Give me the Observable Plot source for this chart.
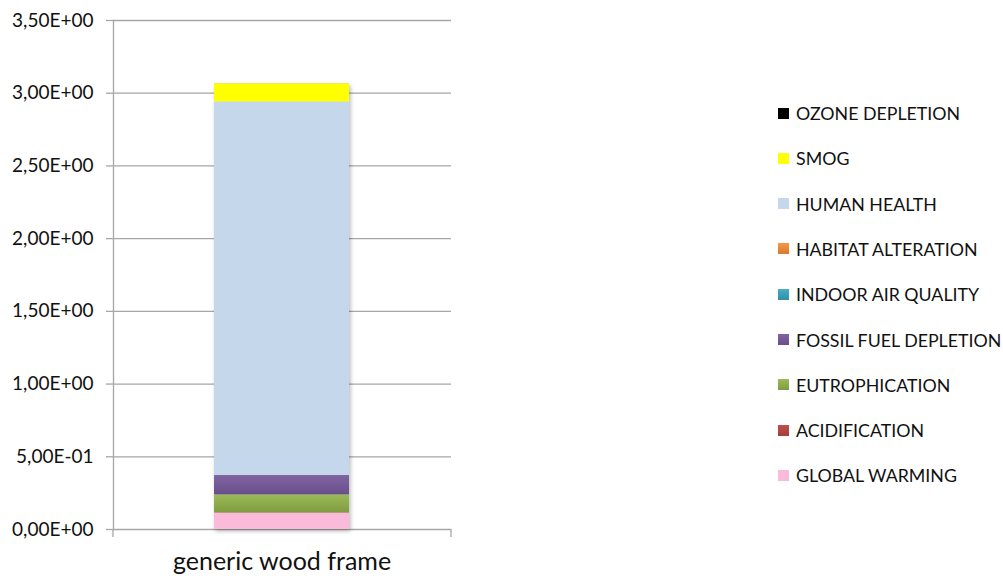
<!DOCTYPE html>
<html>
<head>
<meta charset="utf-8">
<script src="https://cdn.jsdelivr.net/npm/d3@7"></script>
<script src="https://cdn.jsdelivr.net/npm/@observablehq/plot@0.6"></script>
<style>
  body { margin: 0; background: #fff; }
  #wrap { position: relative; width: 1003px; height: 576px; font-family: Lato, "Noto Sans", sans-serif; }
  #legend { position: absolute; left: 778px; top: 103px; }
  .row { position: absolute; left: 0; height: 20px; white-space: nowrap; display: flex; align-items: center; font-size: 17.8px; color: #111; }
  .sw { width: 11px; height: 11px; margin-right: 7px; }
</style>
</head>
<body>
<div id="wrap"></div>
<script>
// Environmental impact categories, stacked bottom to top
const categories = ["generic wood frame"];
const impacts = [
  "GLOBAL WARMING", "ACIDIFICATION", "EUTROPHICATION", "FOSSIL FUEL DEPLETION",
  "INDOOR AIR QUALITY", "HABITAT ALTERATION", "HUMAN HEALTH", "SMOG", "OZONE DEPLETION"
];
const values = [0.112, 0.002, 0.124, 0.133, 0.001, 0.001, 2.567, 0.124, 0.0005];
// top / bottom shades of each segment's vertical gradient
const colorsTop = ["#fbbad9", "#c0504d", "#9bbb59", "#8064a2", "#4bacc6", "#f79646", "#c5d7eb", "#ffff00", "#000000"];
const colorsBottom = ["#fbbad9", "#a23f3c", "#7f9b3f", "#684f8a", "#2f8fa8", "#d97a2c", "#c5d7eb", "#ffff00", "#000000"];
const yTicks = [0, 0.5, 1, 1.5, 2, 2.5, 3, 3.5];

// "3,50E+00" style scientific notation with decimal comma
function sci(v) {
  if (v === 0) return "0,00E+00";
  const e = Math.floor(Math.log10(Math.abs(v)) + 1e-9);
  const m = v / Math.pow(10, e);
  return m.toFixed(2).replace(".", ",") + "E" + (e < 0 ? "-" : "+") + String(Math.abs(e)).padStart(2, "0");
}

const data = impacts.map((k, i) => ({category: categories[0], impact: k, value: values[i]}));
const gradIds = impacts.map((k, i) => "seg" + i);
const gray = "#a6a6a6";

const chart = Plot.plot({
  width: 1003,
  height: 576,
  marginLeft: 113,
  marginRight: 552,
  marginTop: 20,
  marginBottom: 47,
  style: {fontFamily: "Lato, 'Noto Sans', sans-serif", color: "#111", background: "transparent"},
  x: {domain: categories, padding: 0.4265, label: null},
  y: {domain: [0, 3.5], label: null},
  color: {domain: impacts, range: gradIds.map(id => `url(#${id})`)},
  marks: [
    Plot.gridY(yTicks, {stroke: gray, strokeOpacity: 1, strokeWidth: 1.3}),
    Plot.frame({anchor: "left", stroke: gray, strokeWidth: 1.3}),
    Plot.axisY({ticks: yTicks, tickFormat: sci, tickSize: 7, tickPadding: 13, stroke: gray, strokeWidth: 1.3, fontSize: 19, label: null}),
    Plot.barY(data, {x: "category", y: "value", fill: "impact", className: "stack"}),
    Plot.axisX({tickSize: 0, tickPadding: 23, fontSize: 25, label: null})
  ]
});

// gradients and shadow for the stacked segments
const svg = d3.select(chart);
const defs = svg.insert("defs", ":first-child");
impacts.forEach((k, i) => {
  const g = defs.append("linearGradient").attr("id", gradIds[i]).attr("x1", 0).attr("y1", 0).attr("x2", 0).attr("y2", 1);
  g.append("stop").attr("offset", "0%").attr("stop-color", colorsTop[i]);
  g.append("stop").attr("offset", "100%").attr("stop-color", colorsBottom[i]);
});
const f = defs.append("filter").attr("id", "shadow").attr("x", "-10%").attr("y", "-10%").attr("width", "130%").attr("height", "130%");
f.append("feDropShadow").attr("dx", 1.5).attr("dy", 2).attr("stdDeviation", 2).attr("flood-color", "#000").attr("flood-opacity", 0.28);
svg.select("g.stack").attr("filter", "url(#shadow)");

// category axis baseline ticks at the plot edges
const xr = chart.scale("x").range;
const y0 = chart.scale("y").apply(0);
svg.append("g").attr("stroke", gray).attr("stroke-width", 1.3)
  .selectAll("line").data(xr).join("line")
  .attr("x1", d => d).attr("x2", d => d).attr("y1", y0).attr("y2", y0 + 8);

const wrap = document.getElementById("wrap");
wrap.appendChild(chart);

// legend, top entry is the top of the stack
const legend = document.createElement("div");
legend.id = "legend";
impacts.slice().reverse().forEach((k, j) => {
  const i = impacts.length - 1 - j;
  const row = document.createElement("div");
  row.className = "row";
  row.style.top = (j * 45.3) + "px";
  const sw = document.createElement("div");
  sw.className = "sw";
  sw.style.background = `linear-gradient(${colorsTop[i]}, ${colorsBottom[i]})`;
  const t = document.createElement("span");
  t.textContent = k;
  row.appendChild(sw);
  row.appendChild(t);
  legend.appendChild(row);
});
wrap.appendChild(legend);
</script>
</body>
</html>
